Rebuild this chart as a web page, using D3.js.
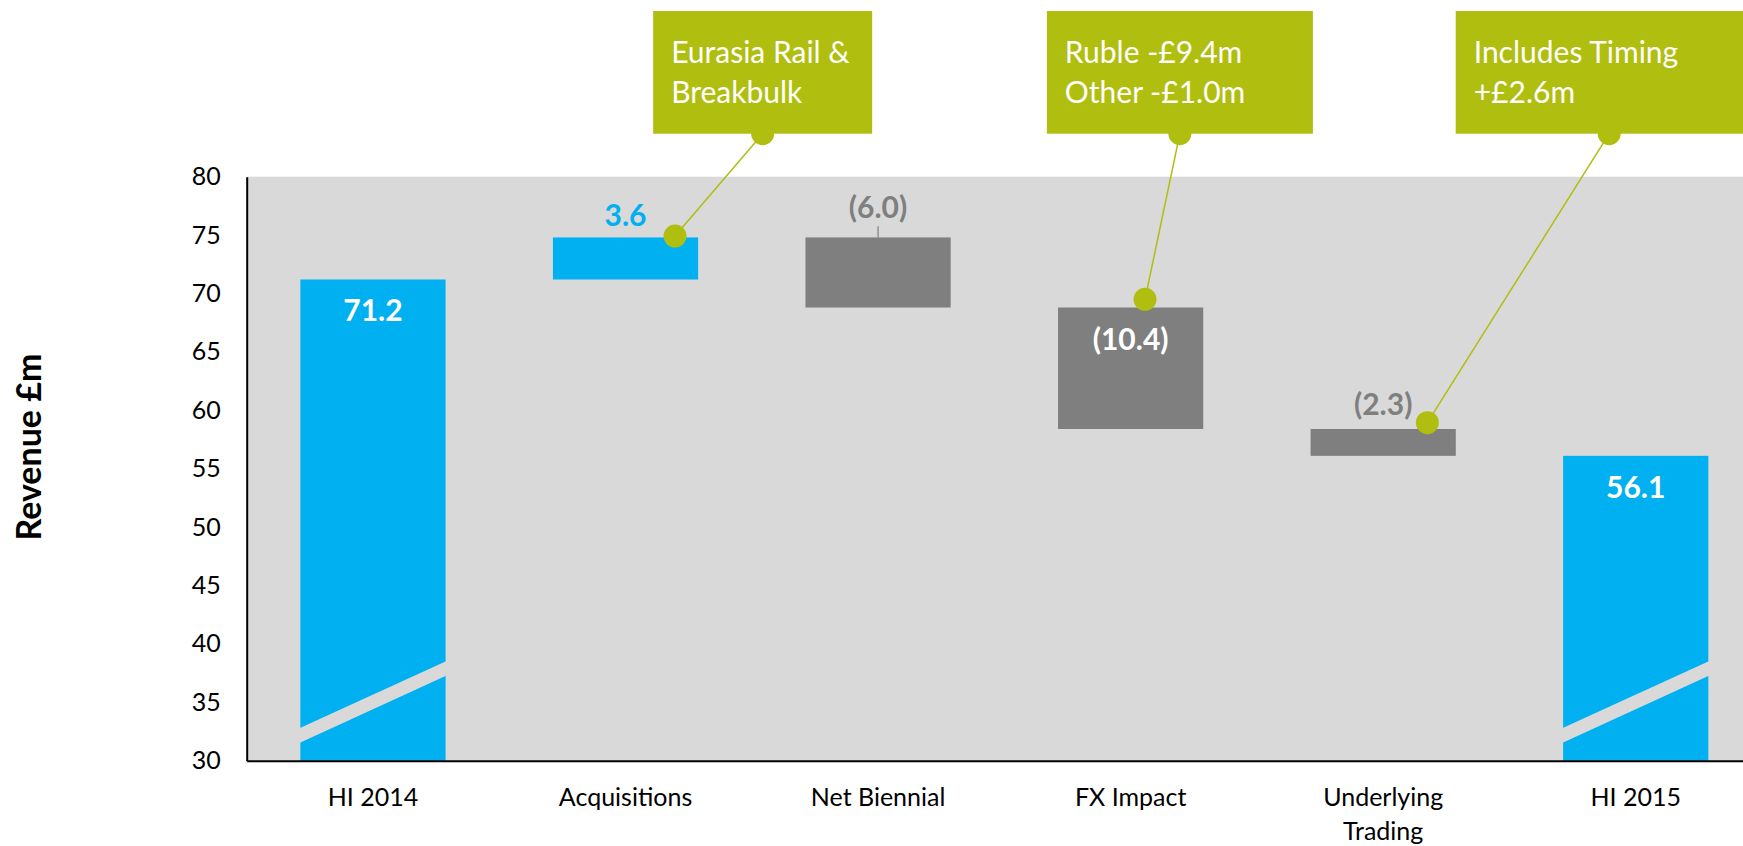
<!DOCTYPE html>
<html><head><meta charset="utf-8">
<script src="https://cdn.jsdelivr.net/npm/d3@7"></script>
<style>
html,body{margin:0;padding:0;background:#fff;overflow:hidden;}
svg{display:block;font-family:Lato,"Open Sans",sans-serif;}
</style></head><body>
<svg id="chart" width="1743" height="846"></svg>
<script>
// ---------- data ----------
const categories = ["HI 2014","Acquisitions","Net Biennial","FX Impact","Underlying Trading","HI 2015"];
const categoryLines = [["HI 2014"],["Acquisitions"],["Net Biennial"],["FX Impact"],["Underlying","Trading"],["HI 2015"]];
const barTypes = ["total","delta","delta","delta","delta","total"];
const values = [71.2, 3.6, -6.0, -10.4, -2.3, 56.1];
const valueLabels = ["71.2","3.6","(6.0)","(10.4)","(2.3)","56.1"];
const yTicks = [30,35,40,45,50,55,60,65,70,75,80];
const yDomain = [30,80];
const axisTitle = "Revenue £m";
const calloutTexts = [["Eurasia Rail &","Breakbulk"],["Ruble -£9.4m","Other -£1.0m"],["Includes Timing","+£2.6m"]];
const calloutTargets = ["Acquisitions","FX Impact","Underlying Trading"];

// ---------- layout / style ----------
const plot = {left:246.7, right:1762, top:176.7, bottom:760.7};
const COL = {blue:"#00b0f0", gray:"#7f7f7f", bg:"#d9d9d9", green:"#afbe0f"};
const labelPlacement = ["inside","above","above","inside","above","inside"];
const aboveGap = [0,11,19.5,0,14];
const calloutLayout = [
  {boxDx:0.543, width:219, dotDx:0.196, dotDy:-1.4},
  {boxDx:0.195, width:266, dotDx:0.057, dotDy:-8.2},
  {boxDx:0.895, width:307, dotDx:0.175, dotDy:-6.3}
];
const boxTop = 11, boxH = 122.7, dotR = 11.5;
const breakLeft = 32.15, breakRight = 37.92, breakGap = 1.25;

// waterfall
let running = 0;
const bars = categories.map((c,i)=>{
  let lo, hi;
  if (barTypes[i]==="total"){ lo = yDomain[0]; hi = values[i]; running = values[i]; }
  else { const s = running, e = running + values[i]; lo = Math.min(s,e); hi = Math.max(s,e); running = e; }
  return {cat:c, type:barTypes[i], lo, hi, top:hi, label:valueLabels[i], i};
});

const svg = d3.select("#chart");
const x = d3.scaleBand().domain(categories).range([plot.left, plot.right]).paddingInner(0.425).paddingOuter(0.2125);
const y = d3.scaleLinear().domain(yDomain).range([plot.bottom, plot.top]);

// background
svg.append("rect").attr("x",plot.left).attr("y",plot.top).attr("width",plot.right-plot.left).attr("height",plot.bottom-plot.top).attr("fill",COL.bg);

// bars
svg.append("g").selectAll("rect").data(bars).join("rect")
  .attr("x",d=>x(d.cat)).attr("width",x.bandwidth())
  .attr("y",d=>y(d.hi)).attr("height",d=>y(d.lo)-y(d.hi))
  .attr("fill",d=>d.type==="total"?COL.blue:(values[d.i]>=0?COL.blue:COL.gray));

// axis breaks on total bars
svg.append("g").selectAll("path").data(bars.filter(d=>d.type==="total")).join("path")
  .attr("fill",COL.bg)
  .attr("d",d=>{
    const x0 = x(d.cat)-1, x1 = x(d.cat)+x.bandwidth()+1;
    return `M${x0},${y(breakLeft+breakGap/2)} L${x1},${y(breakRight+breakGap/2)} L${x1},${y(breakRight-breakGap/2)} L${x0},${y(breakLeft-breakGap/2)} Z`;
  });

// axes
const yAxis = svg.append("g").attr("transform",`translate(${plot.left},0)`)
  .call(d3.axisLeft(y).tickValues(yTicks).tickSize(0).tickSizeOuter(0).tickPadding(26));
yAxis.select(".domain").attr("stroke","#000").attr("stroke-width",2);
yAxis.selectAll("text").attr("font-size",25).attr("fill","#000").attr("font-family","Lato");

const xAxis = svg.append("g").attr("transform",`translate(0,${plot.bottom})`)
  .call(d3.axisBottom(x).tickSize(0).tickSizeOuter(0).tickPadding(28));
xAxis.select(".domain").attr("stroke","#000").attr("stroke-width",2);
xAxis.selectAll("text").attr("font-size",25).attr("fill","#000").attr("font-family","Lato")
  .each(function(d){
    const t = d3.select(this); const lines = categoryLines[categories.indexOf(d)];
    t.text(null);
    lines.forEach((ln,k)=>t.append("tspan").attr("x",0).attr("dy",k===0?"0.71em":"1.34em").text(ln));
  });

// y title
svg.append("text").attr("transform","translate(40.5,447) rotate(-90)")
  .attr("text-anchor","middle").attr("font-size",34).attr("font-weight",700).attr("fill","#000")
  .text(axisTitle);

// value labels
const lab = svg.append("g").attr("font-weight",700).attr("font-size",30).attr("text-anchor","middle");
bars.forEach(d=>{
  const cx = x(d.cat)+x.bandwidth()/2;
  if (labelPlacement[d.i]==="inside"){
    lab.append("text").attr("x",cx).attr("y",y(d.top)+42).attr("fill","#fff").text(d.label);
  } else {
    const col = values[d.i]>=0?COL.blue:COL.gray;
    lab.append("text").attr("x",cx).attr("y",y(d.top)-aboveGap[d.i]).attr("fill",col).text(d.label);
    if (aboveGap[d.i]>15){
      svg.append("line").attr("x1",cx).attr("x2",cx).attr("y1",y(d.top)-11.3).attr("y2",y(d.top))
        .attr("stroke",COL.gray).attr("stroke-width",1.2);
    }
  }
});

// callouts
const cg = svg.append("g");
calloutTargets.forEach((cat,k)=>{
  const L = calloutLayout[k];
  const b = bars[categories.indexOf(cat)];
  const cx = x(cat)+x.bandwidth()/2, step = x.step();
  const bx = cx + L.boxDx*step;
  const by = boxTop + boxH;
  const tx = cx + L.dotDx*step, ty = y(b.top) + L.dotDy;
  cg.append("line").attr("x1",bx).attr("y1",by).attr("x2",tx).attr("y2",ty).attr("stroke",COL.green).attr("stroke-width",1.5);
  cg.append("circle").attr("cx",bx).attr("cy",by).attr("r",dotR).attr("fill",COL.green);
  cg.append("circle").attr("cx",tx).attr("cy",ty).attr("r",dotR).attr("fill",COL.green);
  const left = bx - L.width/2;
  cg.append("rect").attr("x",left).attr("y",boxTop).attr("width",L.width).attr("height",boxH).attr("fill",COL.green);
  calloutTexts[k].forEach((ln,j)=>{
    cg.append("text").attr("x",left+18).attr("y",boxTop+51.7+j*40).attr("fill","#fff")
      .attr("font-size",30).text(ln);
  });
});
</script></body></html>
